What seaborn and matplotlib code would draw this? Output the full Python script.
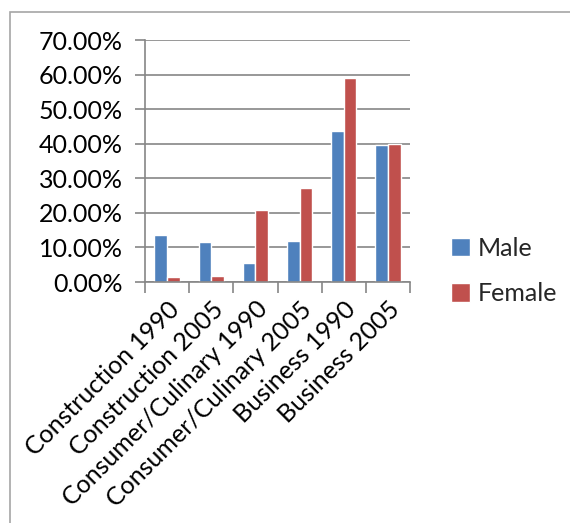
import matplotlib
matplotlib.use("Agg")
import matplotlib.pyplot as plt
from matplotlib.patches import Rectangle
from matplotlib.ticker import PercentFormatter, FixedLocator
import seaborn as sns
import pandas as pd

categories = ["Construction 1990", "Construction 2005", "Consumer/Culinary 1990",
              "Consumer/Culinary 2005", "Business 1990", "Business 2005"]
male = [13.6, 11.5, 5.6, 11.9, 43.6, 39.6]
female = [1.5, 1.6, 20.8, 27.3, 59.0, 39.9]
series = ["Male", "Female"]
y_ticks = [0, 10, 20, 30, 40, 50, 60, 70]

df = pd.DataFrame({
    "category": categories * 2,
    "value": male + female,
    "series": [series[0]] * len(categories) + [series[1]] * len(categories),
})

sns.set_theme(style="white")
plt.rcParams["font.family"] = ["Lato", "DejaVu Sans"]

fig = plt.figure(figsize=(5.70, 5.23), dpi=100)
ax = fig.add_axes([145 / 570, 1 - 282 / 523, 265 / 570, 242 / 523])

sns.barplot(data=df, x="category", y="value", hue="series",
            palette={"Male": "#4F81BD", "Female": "#C0504D"},
            width=0.57, saturation=1, ax=ax, legend=True)

ax.set_xlim(-0.5, len(categories) - 0.5)
ax.set_ylim(0, 70)
ax.yaxis.set_major_locator(FixedLocator(y_ticks))
ax.yaxis.set_major_formatter(PercentFormatter(decimals=2))
ax.grid(axis="y", color="#868686", linewidth=1.2)
ax.set_axisbelow(True)
ax.set_xlabel("")
ax.set_ylabel("")

for side in ["top", "right"]:
    ax.spines[side].set_visible(False)
for side in ["left", "bottom"]:
    ax.spines[side].set_color("#868686")
    ax.spines[side].set_linewidth(1.2)

ax.tick_params(axis="y", which="major", length=7, width=1.2, color="#868686",
               labelsize=18, labelcolor="black", pad=9, left=True)
ax.set_xticks(range(len(categories)))
ax.set_xticklabels(categories, rotation=45, ha="right", rotation_mode="anchor",
                   fontsize=18, color="black")
ax.tick_params(axis="x", which="major", length=0, pad=11)
ax.set_xticks([i - 0.5 for i in range(len(categories) + 1)], minor=True)
ax.tick_params(axis="x", which="minor", length=8, width=1.2, color="#868686", bottom=True)

leg = ax.legend(loc="center left", bbox_to_anchor=(1.07, 0.045), frameon=False,
                fontsize=18, handlelength=0.75, handleheight=0.75, handletextpad=0.3,
                labelspacing=0.9)

fig.patches.append(Rectangle((10 / 570, -0.1), 1.2, 1.1 - 12 / 523,
                             transform=fig.transFigure, fill=False,
                             edgecolor="#A6A6A6", linewidth=1.2))

fig.savefig("out.png", dpi=100)
